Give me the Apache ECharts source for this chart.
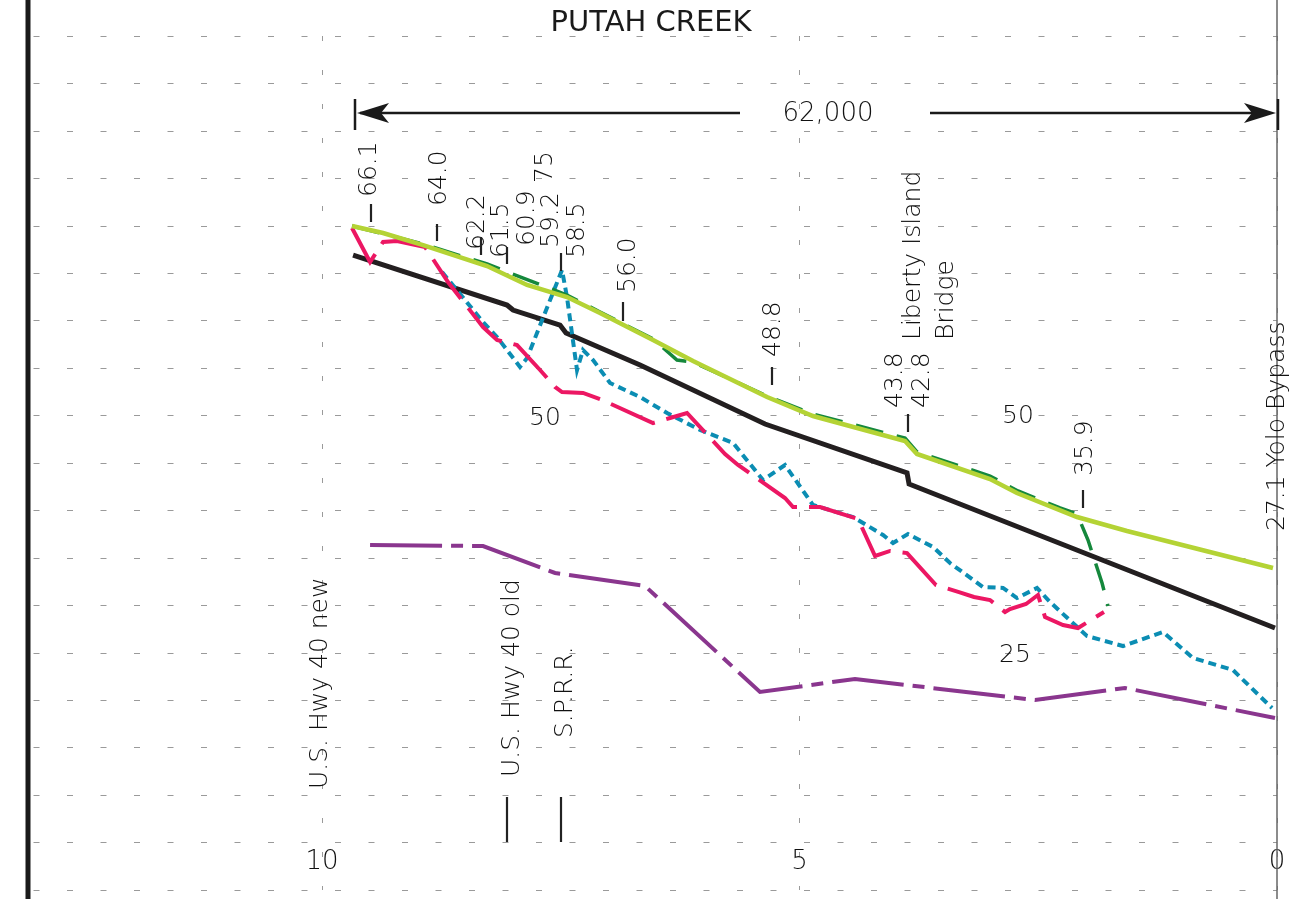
<!DOCTYPE html>
<html>
<head>
<meta charset="utf-8">
<script src="https://cdn.jsdelivr.net/npm/echarts@6/dist/echarts.min.js"></script>
<style>
html,body{margin:0;padding:0;background:#fff;}
#chart{width:1301px;height:899px;}
</style>
</head>
<body>
<div id="chart"></div>
<script>
// ---------------- DATA (river mile, elevation ft) ----------------
const xTickValues = [0, 5, 10];

const designProfile = [   // black solid
  [9.675, 66.92], [8.063, 61.65], [8.000, 61.12], [7.508, 59.54], [7.445, 58.70],
  [6.670, 55.33], [5.361, 49.11], [3.874, 43.95], [3.853, 42.79], [0.021, 27.61]
];

const leveeProfileLight = [  // light green solid
  [9.686, 69.98], [9.361, 69.24], [8.942, 67.97], [8.272, 65.76], [7.853, 63.76],
  [7.435, 62.49], [7.089, 60.81], [6.534, 57.96], [6.115, 55.75], [5.340, 51.95],
  [4.859, 49.95], [3.895, 47.32], [3.770, 45.95], [3.005, 43.31], [2.723, 41.84],
  [2.094, 39.31], [1.571, 37.83], [0.042, 33.93]
];

const leveeProfileDark = [   // dark green dashed
  [9.686, 69.98], [8.942, 68.08], [8.272, 65.97], [7.435, 62.70], [7.089, 60.92],
  [6.534, 58.07], [6.283, 55.85], [6.115, 55.64], [5.340, 52.06], [4.859, 50.16],
  [4.021, 47.95], [3.895, 47.63], [3.770, 46.17], [3.005, 43.63], [2.712, 42.05],
  [2.272, 40.26], [2.094, 39.63], [1.979, 36.88], [1.832, 32.35], [1.770, 29.93]
];

const pinkProfile = [   // magenta dashed
  [9.686, 69.77], [9.497, 66.18], [9.361, 68.29], [9.215, 68.39], [8.921, 67.76],
  [8.681, 64.07], [8.314, 59.33], [8.168, 57.96], [7.958, 57.43], [7.717, 54.80],
  [7.560, 53.01], [7.487, 52.48], [7.267, 52.38], [7.068, 51.64], [6.534, 49.21],
  [6.356, 49.74], [6.178, 50.27], [5.780, 45.95], [5.644, 44.79], [5.152, 41.31],
  [5.068, 40.36], [4.785, 40.36], [4.387, 39.10], [4.209, 35.20], [4.052, 35.73],
  [3.874, 35.51], [3.571, 32.14], [3.330, 31.40], [3.173, 30.88], [3.005, 30.56],
  [2.848, 29.30], [2.796, 29.61], [2.628, 30.14], [2.503, 31.09], [2.429, 28.77],
  [2.241, 27.93], [2.084, 27.61], [1.812, 29.30]
];

const cyanProfile = [   // blue dotted
  [8.743, 65.13], [8.314, 59.86], [8.168, 58.28], [7.927, 55.12], [7.853, 56.06],
  [7.487, 65.34], [7.435, 62.49], [7.330, 54.80], [7.267, 56.91], [7.162, 55.85],
  [6.984, 53.43], [6.670, 51.95], [6.387, 50.27], [6.042, 48.48], [5.696, 47.11],
  [5.382, 43.21], [5.152, 44.79], [4.859, 40.57], [4.440, 39.31], [4.126, 37.41],
  [4.021, 36.57], [3.864, 37.52], [3.602, 36.15], [3.424, 34.46], [3.079, 31.93],
  [2.869, 31.83], [2.723, 30.77], [2.513, 31.83], [2.377, 30.35], [1.990, 26.77],
  [1.613, 25.71], [1.194, 27.19], [0.880, 24.45], [0.461, 23.18], [0.052, 19.18]
];

const purpleProfile = [  // purple dash-dot
  [9.497, 36.36], [8.314, 36.25], [7.560, 33.41], [6.618, 32.04], [5.414, 20.87],
  [4.419, 22.24], [2.534, 20.02], [1.592, 21.29], [0.021, 18.13]
];

const stationTexts = ['66.1', '64.0', '62.2', '61.5', '60.9', '75', '59.2', '58.5', '56.0',
                      '48.8', '43.8', '42.8', '35.9', '27.1 Yolo Bypass'];
const placeTexts = ['Liberty Island', 'Bridge', 'U.S. Hwy 40 new', 'U.S. Hwy 40 old', 'S.P.R.R.'];
const contourTexts = ['50', '50', '25'];
const titleText = 'PUTAH CREEK';
const lengthText = '62,000';

// ---------------- LAYOUT ----------------
const FAMILY = "'DejaVu Sans', Lato, sans-serif";
const FONT = "200 25px " + FAMILY;
const TXT = '#111';
// rotated labels: [x centre, y bottom]
const stationPos = [[369,197],[439,206],[477,250],[501,258],[527,246],[545,183],[551,248],[577,258],[628,293],
                    [773,357],[895,408],[922,408],[1085,476],[1277,531]];
const stationTicks = [[371,204,222],[437,224,241],[481,237,255],[507,247,264],[561,253,271],[623,302,321],
                      [772,367,385],[908,414,432],[1083,490,508],[507,797,842],[561,797,842]];
const placePos = [[913,340],[946,340],[320,789],[512,777],[565,738]];
const contourPos = [[545,418],[1018,416],[1015,655]];

const rot = Math.PI / 2;
const graphics = [];
// frame lines
graphics.push({type:'line', shape:{x1:28,y1:0,x2:28,y2:899}, style:{stroke:'#1a1a1a', lineWidth:5}, z:10});
graphics.push({type:'line', shape:{x1:1277,y1:0,x2:1277,y2:899}, style:{stroke:'#666', lineWidth:1.5}, z:1});
stationTexts.forEach((t, i) => {
  graphics.push({type:'text', x:stationPos[i][0], y:stationPos[i][1], rotation:rot,
    style:{text:t, font:FONT, fill:TXT, align:'left', verticalAlign:'middle'}, z:20});
});
placeTexts.forEach((t, i) => {
  graphics.push({type:'text', x:placePos[i][0], y:placePos[i][1], rotation:rot,
    style:{text:t, font:FONT, fill:TXT, align:'left', verticalAlign:'middle'}, z:20});
});
stationTicks.forEach(p => {
  graphics.push({type:'line', shape:{x1:p[0],y1:p[1],x2:p[0],y2:p[2]}, style:{stroke:'#222', lineWidth:2.2}, z:20});
});
contourTexts.forEach((t, i) => {
  graphics.push({type:'text', x:contourPos[i][0], y:contourPos[i][1],
    style:{text:t, font:FONT, fill:TXT, align:'center', verticalAlign:'middle'}, z:20});
});
// dimension line 62,000
const dimY = 113;
graphics.push({type:'line', shape:{x1:355,y1:99,x2:355,y2:130}, style:{stroke:'#1a1a1a', lineWidth:2.5}, z:20});
graphics.push({type:'line', shape:{x1:1278,y1:99,x2:1278,y2:130}, style:{stroke:'#1a1a1a', lineWidth:2.5}, z:20});
graphics.push({type:'line', shape:{x1:360,y1:dimY,x2:740,y2:dimY}, style:{stroke:'#1a1a1a', lineWidth:2.5}, z:20});
graphics.push({type:'line', shape:{x1:930,y1:dimY,x2:1270,y2:dimY}, style:{stroke:'#1a1a1a', lineWidth:2.5}, z:20});
graphics.push({type:'polygon', shape:{points:[[357,dimY],[389,dimY-10],[381,dimY],[389,dimY+10]]}, style:{fill:'#1a1a1a'}, z:20});
graphics.push({type:'polygon', shape:{points:[[1276,dimY],[1244,dimY-10],[1252,dimY],[1244,dimY+10]]}, style:{fill:'#1a1a1a'}, z:20});
graphics.push({type:'text', x:828, y:dimY+1, style:{text:lengthText, font:"200 26px " + FAMILY, fill:TXT, align:'center', verticalAlign:'middle'}, z:20});

function lineSeries(name, data, color, width, dash, z) {
  return {
    name, type:'line', data, showSymbol:false, symbol:'none', smooth:false, z,
    lineStyle:{color, width, type:dash, cap:'butt', join:'miter'},
    animation:false, silent:true
  };
}

const chart = echarts.init(document.getElementById('chart'), null, {renderer:'canvas'});
chart.setOption({
  backgroundColor:'#ffffff',
  animation:false,
  title:{text:titleText, left:646, top:4, textAlign:'center',
    textStyle:{fontFamily:FAMILY, fontWeight:400, fontSize:29, color:'#1a1a1a'}},
  grid:{left:28, right:24, top:36, bottom:9, containLabel:false},
  xAxis:{
    type:'value', inverse:true, min:0, max:13.079, interval:5,
    axisLine:{show:false}, axisTick:{show:false},
    axisLabel:{show:true, inside:true, margin:15, verticalAlign:'bottom', showMaxLabel:false,
      fontFamily:FAMILY, fontWeight:200, fontSize:26, color:'#111',
      formatter: v => (xTickValues.indexOf(v) >= 0 ? String(v) : '')},
    splitLine:{show:true, lineStyle:{color:'#9a9a9a', width:1, type:[5,29]}}
  },
  yAxis:{
    type:'value', min:0, max:90, interval:5,
    axisLine:{show:false}, axisTick:{show:false}, axisLabel:{show:false},
    splitLine:{show:true, lineStyle:{color:'#9a9a9a', width:1, type:[6,27.5], dashOffset:28}}
  },
  series:[
    lineSeries('Purple', purpleProfile, '#8a368e', 4, [72,9,12,9], 2),
    lineSeries('Design', designProfile, '#231f20', 5, 'solid', 3),
    lineSeries('Cyan', cyanProfile, '#0b8db3', 4, [8,5], 4),
    lineSeries('Pink', pinkProfile, '#ec1763', 4, [48,12], 5),
    lineSeries('Dark green', leveeProfileDark, '#15883c', 3.5, [28,14], 6),
    lineSeries('Light green', leveeProfileLight, '#b4d335', 4.5, 'solid', 7)
  ],
  graphic: graphics
});
</script>
</body>
</html>
